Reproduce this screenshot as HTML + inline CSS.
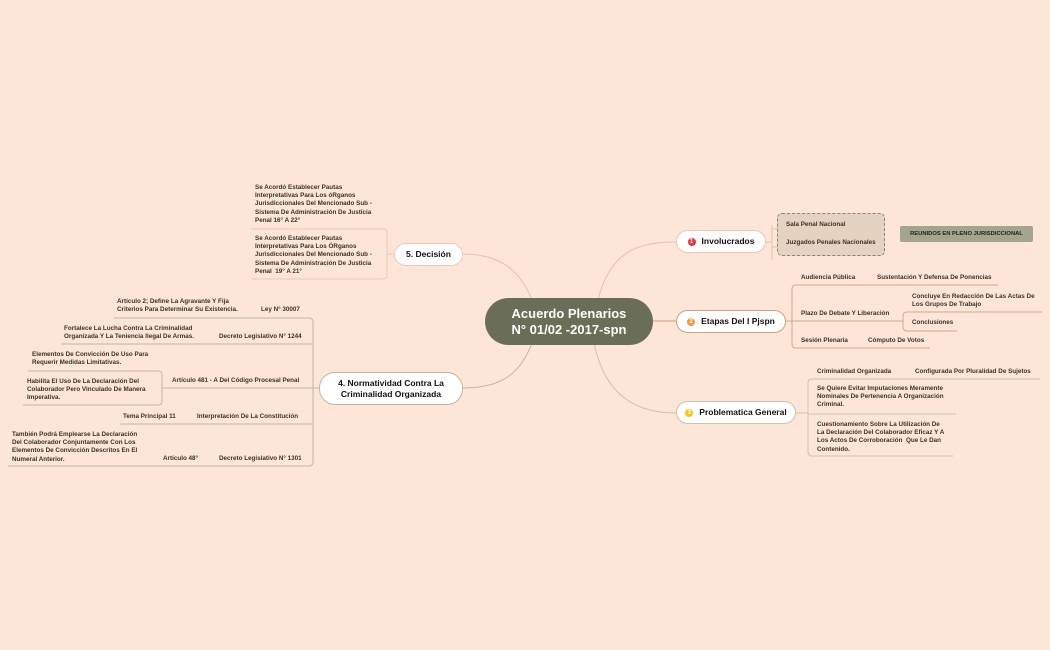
<!DOCTYPE html>
<html><head><meta charset="utf-8"><style>
body{margin:0;width:1050px;height:650px;background:#fde6d7;position:relative;overflow:hidden;font-family:"Liberation Sans",sans-serif;}
.t{position:absolute;font-size:6.3px;line-height:8.2px;color:#3b3226;font-weight:bold;white-space:nowrap;}
.n{position:absolute;background:#fff;border-radius:12px;font-weight:bold;font-size:8.5px;color:#111;display:flex;align-items:center;justify-content:center;text-align:center;box-sizing:border-box;line-height:11px;}
.dot{display:inline-block;width:8px;height:8px;border-radius:50%;color:#fff;font-size:6px;line-height:8px;text-align:center;margin-right:6px;}
svg{position:absolute;left:0;top:0;}
</style></head><body>
<svg width="1050" height="650" fill="none" stroke-width="1">
<!-- center connectors -->
<path d="M598 300 C610 250 640 242 676 242" stroke="#e4c1ac"/>
<path d="M652 321 L676 321" stroke="#cf9f82"/>
<path d="M594 343 C605 395 635 413 676 413" stroke="#c9c5ab"/>
<path d="M532 300 C520 270 500 254 462 254" stroke="#e4c1ac"/>
<path d="M532 343 C520 375 500 388 462 388" stroke="#bdb99c"/>
<!-- Involucrados -->
<path d="M765 242 L772 242 M772 225 L772 260 M772 229 L790 229 M772 247 L790 247" stroke="#e4c1ac"/>
<!-- Etapas -->
<g stroke="#d0a88e">
<path d="M785 321 L792 321"/>
<path d="M998 285 L796 285 Q792 285 792 289 L792 344 Q792 348 796 348 L930 348"/>
<path d="M792 321 L903 321"/>
<path d="M1042 312 L907 312 Q903 312 903 316 L903 327 Q903 331 907 331 L957 331"/>
</g>
<!-- Problematica -->
<g stroke="#c9c5ab">
<path d="M795 413 L808 413"/>
<path d="M1040 379 L812 379 Q808 379 808 383 L808 452 Q808 456 812 456 L953 456"/>
<path d="M808 414 L956 414"/>
</g>
<!-- Decision -->
<g stroke="#ecc9b4">
<path d="M394 254 L387 254"/>
<path d="M251 229 L383 229 Q387 229 387 233 L387 275 Q387 279 383 279 L251 279"/>
</g>
<!-- Normatividad -->
<g stroke="#bdb99c">
<path d="M319 388 L313 388"/>
<path d="M114 318 L309 318 Q313 318 313 322 L313 462 Q313 466 309 466 L8 466"/>
<path d="M61 344 L313 344"/>
<path d="M162 388 L313 388"/>
<path d="M28 371 L158 371 Q162 371 162 375 L162 401 Q162 405 158 405 L23 405"/>
<path d="M120 424 L313 424"/>
</g>
</svg>

<div class="n" style="left:485px;top:298px;width:168px;height:47px;background:#6b6e57;color:#fff;font-size:13px;line-height:16px;border-radius:24px;">Acuerdo Plenarios<br>N° 01/02 -2017-spn</div>

<div class="n" style="left:676px;top:230px;width:90px;height:23px;border:1.5px solid #ecc6b1;"><span class="dot" style="background:#e8383d">1</span>Involucrados</div>
<div style="position:absolute;left:777px;top:213px;width:108px;height:43px;box-sizing:border-box;background:#e3d3c0;border:1px dashed #8a8470;border-radius:5px;"></div>
<div class="t" style="left:786px;top:221px;">Sala Penal Nacional</div>
<div class="t" style="left:786px;top:239px;">Juzgados Penales Nacionales</div>
<div style="position:absolute;left:900px;top:226px;width:133px;height:16px;background:#a3a58c;border-radius:2px;font-size:5.8px;font-weight:bold;color:#222;display:flex;align-items:center;justify-content:center;">REUNIDOS EN PLENO JURISDICCIONAL</div>

<div class="n" style="left:676px;top:310px;width:110px;height:23px;border:1.5px solid #cf9f82;"><span class="dot" style="background:#f59a3c">2</span>Etapas Del I Pjspn</div>
<div class="t" style="left:801px;top:274px;">Audiencia Pública</div>
<div class="t" style="left:877px;top:274px;">Sustentación Y Defensa De Ponencias</div>
<div class="t" style="left:801px;top:310px;">Plazo De Debate Y Liberación</div>
<div class="t" style="left:912px;top:293px;">Concluye En Redacción De Las Actas De<br>Los Grupos De Trabajo</div>
<div class="t" style="left:912px;top:319px;">Conclusiones</div>
<div class="t" style="left:801px;top:337px;">Sesión Plenaria</div>
<div class="t" style="left:868px;top:337px;">Cómputo De Votos</div>

<div class="n" style="left:676px;top:401px;width:120px;height:23px;border:1.5px solid #c9c5ab;"><span class="dot" style="background:#f5c518">3</span>Problematica General</div>
<div class="t" style="left:817px;top:368px;">Criminalidad Organizada</div>
<div class="t" style="left:915px;top:368px;">Configurada Por Pluralidad De Sujetos</div>
<div class="t" style="left:817px;top:385px;">Se Quiere Evitar Imputaciones Meramente<br>Nominales De Pertenencia A Organización<br>Criminal.</div>
<div class="t" style="left:817px;top:421px;">Cuestionamiento Sobre La Utilización De<br>La Declaración Del Colaborador Eficaz Y A<br>Los Actos De Corroboración&nbsp; Que Le Dan<br>Contenido.</div>

<div class="n" style="left:394px;top:243px;width:69px;height:23px;border:1.5px solid #ecc9b4;">5. Decisión</div>
<div class="t" style="left:255px;top:184px;">Se Acordó Establecer Pautas<br>Interpretativas Para Los óRganos<br>Jurisdiccionales Del Mencionado Sub -<br>Sistema De Administración De Justicia<br>Penal 16° A 22°</div>
<div class="t" style="left:255px;top:235px;">Se Acordó Establecer Pautas<br>Interpretativas Para Los ÓRganos<br>Jurisdiccionales Del Mencionado Sub -<br>Sistema De Administración De Justicia<br>Penal&nbsp; 19° A 21°</div>

<div class="n" style="left:319px;top:372px;width:144px;height:33px;border:1.5px solid #bdb99c;border-radius:16px;">4. Normatividad Contra La<br>Criminalidad Organizada</div>
<div class="t" style="left:117px;top:298px;">Artículo 2; Define La Agravante Y Fija<br>Criterios Para Determinar Su Existencia.</div>
<div class="t" style="left:261px;top:306px;">Ley N° 30007</div>
<div class="t" style="left:64px;top:325px;">Fortalece La Lucha Contra La Criminalidad<br>Organizada Y La Teniencia Ilegal De Armas.</div>
<div class="t" style="left:219px;top:333px;">Decreto Legislativo N° 1244</div>
<div class="t" style="left:32px;top:351px;">Elementos De Convicción De Uso Para<br>Requerir Medidas Limitativas.</div>
<div class="t" style="left:27px;top:378px;">Habilita El Uso De La Declaración Del<br>Colaborador Pero Vinculado De Manera<br>Imperativa.</div>
<div class="t" style="left:172px;top:377px;">Artículo 481 - A Del Código Procesal Penal</div>
<div class="t" style="left:123px;top:413px;">Tema Principal 11</div>
<div class="t" style="left:197px;top:413px;">Interpretación De La Constitución</div>
<div class="t" style="left:12px;top:431px;">También Podrá Emplearse La Declaración<br>Del Colaborador Conjuntamente Con Los<br>Elementos De Convicción Descritos En El<br>Numeral Anterior.</div>
<div class="t" style="left:163px;top:455px;">Artículo 48°</div>
<div class="t" style="left:219px;top:455px;">Decreto Legislativo N° 1301</div>
</body></html>
